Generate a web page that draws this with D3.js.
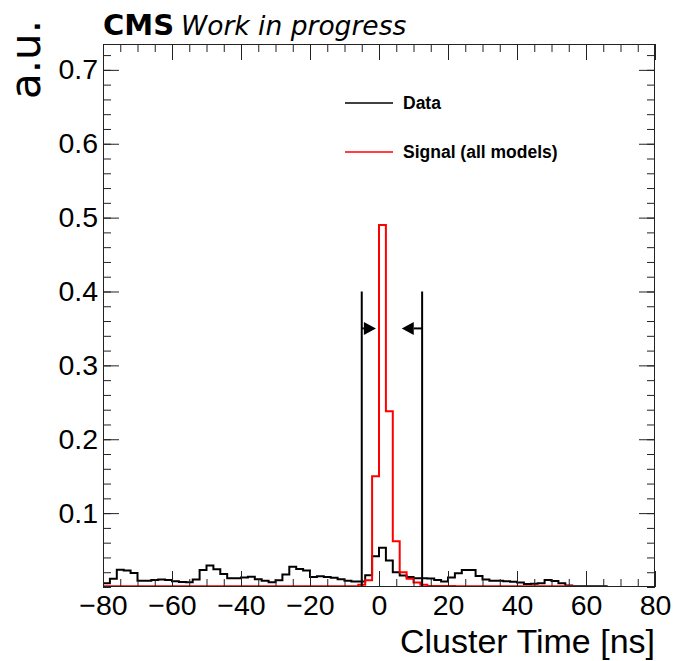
<!DOCTYPE html>
<html>
<head>
<meta charset="utf-8">
<script src="https://cdn.jsdelivr.net/npm/d3@7"></script>
<style>
  html, body { margin: 0; padding: 0; background: #fff; }
  .tick text { font-family: "Liberation Sans", Arial, sans-serif; fill: #000; }
  .tick line { stroke: #222; }
</style>
</head>
<body>
<div id="chart"></div>
<script>
const width = 675, height = 661;
const margin = { top: 44, right: 20, bottom: 74, left: 103 };
const graph_width = width - margin.left - margin.right;
const graph_height = height - margin.top - margin.bottom;

// histogram binning (ns)
const binStart = -80, binWidth = 2;

// Data, per 2 ns bin from -80 to 80
const dataValues = [
  0.0050, 0.0112, 0.0235, 0.0225, 0.0190, 0.0086, 0.0086, 0.0095, 0.0101, 0.0096,
  0.0079, 0.0068, 0.0063, 0.0102, 0.0230, 0.0290, 0.0240, 0.0175, 0.0120, 0.0117,
  0.0128, 0.0140, 0.0106, 0.0085, 0.0064, 0.0090, 0.0169, 0.0275, 0.0244, 0.0225,
  0.0135, 0.0144, 0.0135, 0.0124, 0.0104, 0.0085, 0.0076, 0.0076, 0.0160, 0.0415,
  0.0530, 0.0360, 0.0200, 0.0155, 0.0135, 0.0120, 0.0118, 0.0115, 0.0095, 0.0075,
  0.0130, 0.0185, 0.0230, 0.0230, 0.0150, 0.0100, 0.0085, 0.0085, 0.0078, 0.0072,
  0.0060, 0.0040, 0.0045, 0.0050, 0.0095, 0.0082, 0.0050, 0.0020, 0.0010, 0.0010,
  0.0010, 0.0010, 0.0010, 0.0000, 0.0000, 0.0000, 0.0000, 0.0000, 0.0000, 0.0000
];

// Signal (all models), same bins
const signalValues = [
  0.0010, 0.0010, 0.0010, 0.0010, 0.0010, 0.0010, 0.0010, 0.0010, 0.0010, 0.0010,
  0.0010, 0.0010, 0.0010, 0.0010, 0.0010, 0.0010, 0.0010, 0.0010, 0.0010, 0.0010,
  0.0010, 0.0010, 0.0010, 0.0010, 0.0010, 0.0010, 0.0010, 0.0010, 0.0010, 0.0010,
  0.0010, 0.0010, 0.0010, 0.0010, 0.0010, 0.0010, 0.0010, 0.0030, 0.0090, 0.1500,
  0.4900, 0.2380, 0.0620, 0.0200, 0.0110, 0.0060, 0.0030, 0.0015, 0.0015, 0.0015,
  0.0015, 0.0010, 0.0010, 0.0010, 0.0010, 0.0010, 0.0010, 0.0010, 0.0010, 0.0010,
  0.0010, 0.0010, 0.0010, 0.0010, 0.0010, 0.0010, 0.0010, 0.0010, 0.0000, 0.0000,
  0.0000, 0.0000, 0.0000, 0.0000, 0.0000, 0.0000, 0.0000, 0.0000, 0.0000, 0.0000
];

const xMajorTicks = [-80, -60, -40, -20, 0, 20, 40, 60, 80];
const yMajorTicks = [0.1, 0.2, 0.3, 0.4, 0.5, 0.6, 0.7];

// selection cuts and arrows
const cutValues = [-5, 12.5];
const cutHeight = 0.4;
const arrows = [{from: -5, to: -0.9}, {from: 12.5, to: 6.6}];
const arrowLevel = 0.35;

const legendItems = [
  {label: 'Data', color: '#000000'},
  {label: 'Signal (all models)', color: '#ff0000'}
];

const xScale = d3.scaleLinear().domain([-80, 80]).range([margin.left, margin.left + graph_width]);
const yScale = d3.scaleLinear().domain([0, 0.735]).range([margin.top + graph_height, margin.top]);

const xMinorTicks = d3.range(-80, 80.1, 5);
const yMinorTicks = d3.range(0, 0.735, 0.02);

const svg = d3.select('#chart').append('svg')
  .attr('width', width)
  .attr('height', height);

svg.append('defs').append('clipPath').attr('id', 'plot-clip')
  .append('rect')
  .attr('x', margin.left).attr('y', margin.top)
  .attr('width', graph_width).attr('height', graph_height);

function histPoints(values) {
  const pts = values.map((v, i) => [binStart + i * binWidth, v]);
  pts.push([binStart + values.length * binWidth, values[values.length - 1]]);
  return pts;
}

const stepLine = d3.line()
  .x(d => xScale(d[0]))
  .y(d => yScale(d[1]))
  .curve(d3.curveStepAfter);

const plot = svg.append('g').attr('clip-path', 'url(#plot-clip)');

plot.append('path')
  .datum(histPoints(dataValues))
  .attr('d', stepLine)
  .attr('fill', 'none')
  .attr('stroke', '#000')
  .attr('stroke-width', 2);

plot.append('path')
  .datum(histPoints(signalValues))
  .attr('d', stepLine)
  .attr('fill', 'none')
  .attr('stroke', '#ff0000')
  .attr('stroke-width', 2);

// cut lines
svg.selectAll('.cut')
  .data(cutValues)
  .enter()
  .append('line')
  .attr('class', 'cut')
  .attr('x1', d => xScale(d)).attr('x2', d => xScale(d))
  .attr('y1', yScale(0)).attr('y2', yScale(cutHeight))
  .attr('stroke', '#000')
  .attr('stroke-width', 2);

// arrows
const headLen = 12, headHalf = 6.5;
arrows.forEach(a => {
  const x0 = xScale(a.from), x1 = xScale(a.to), y = yScale(arrowLevel);
  const dir = Math.sign(x1 - x0);
  svg.append('line')
    .attr('x1', x0).attr('x2', x1 - dir * headLen)
    .attr('y1', y).attr('y2', y)
    .attr('stroke', '#000').attr('stroke-width', 2);
  svg.append('path')
    .attr('d', 'M' + x1 + ',' + y + 'L' + (x1 - dir * headLen) + ',' + (y - headHalf) +
               'L' + (x1 - dir * headLen) + ',' + (y + headHalf) + 'Z')
    .attr('fill', '#000');
});

// axes, ticks pointing inward
function drawAxis(axis, transform, labels) {
  const g = svg.append('g')
    .attr('transform', transform)
    .call(axis);
  g.select('.domain').remove();
  g.selectAll('.tick line').attr('stroke', '#222').attr('stroke-width', 1);
  if (labels) {
    g.selectAll('.tick text')
      .attr('font-family', '"Liberation Sans", Arial, sans-serif')
      .attr('font-size', 28.5)
      .attr('fill', '#000');
  }
  return g;
}

const bottomY = margin.top + graph_height;
const rightX = margin.left + graph_width;

drawAxis(d3.axisBottom(xScale).tickValues(xMinorTicks).tickSize(-8).tickSizeOuter(0).tickFormat(''),
  'translate(0,' + bottomY + ')', false);
drawAxis(d3.axisBottom(xScale).tickValues(xMajorTicks).tickSize(-16).tickSizeOuter(0).tickPadding(8)
  .tickFormat(d => d < 0 ? '\u2212' + Math.abs(d) : d),
  'translate(0,' + bottomY + ')', true);
drawAxis(d3.axisTop(xScale).tickValues(xMinorTicks).tickSize(-8).tickSizeOuter(0).tickFormat(''),
  'translate(0,' + margin.top + ')', false);
drawAxis(d3.axisTop(xScale).tickValues(xMajorTicks).tickSize(-16).tickSizeOuter(0).tickFormat(''),
  'translate(0,' + margin.top + ')', false);

drawAxis(d3.axisLeft(yScale).tickValues(yMinorTicks).tickSize(-8).tickSizeOuter(0).tickFormat(''),
  'translate(' + margin.left + ',0)', false);
drawAxis(d3.axisLeft(yScale).tickValues(yMajorTicks).tickSize(-16).tickSizeOuter(0).tickPadding(5)
  .tickFormat(d3.format('.1f')),
  'translate(' + margin.left + ',0)', true);
drawAxis(d3.axisRight(yScale).tickValues(yMinorTicks).tickSize(-8).tickSizeOuter(0).tickFormat(''),
  'translate(' + rightX + ',0)', false);
drawAxis(d3.axisRight(yScale).tickValues(yMajorTicks).tickSize(-16).tickSizeOuter(0).tickFormat(''),
  'translate(' + rightX + ',0)', false);

// frame
svg.append('rect')
  .attr('x', margin.left + 0.5).attr('y', margin.top + 0.5)
  .attr('width', graph_width - 1).attr('height', graph_height - 1)
  .attr('fill', 'none')
  .attr('stroke', '#222')
  .attr('stroke-width', 1);

// axis titles
svg.append('text')
  .attr('x', rightX)
  .attr('y', 653)
  .attr('text-anchor', 'end')
  .attr('font-family', '"Liberation Sans", Arial, sans-serif')
  .attr('font-size', 34)
  .text('Cluster Time [ns]');

svg.append('text')
  .attr('transform', 'translate(40,20) rotate(-90)')
  .attr('text-anchor', 'end')
  .attr('font-family', '"DejaVu Sans", sans-serif')
  .attr('font-size', 42)
  .text('a.u.');

// CMS label
const cms = svg.append('text')
  .attr('x', margin.left)
  .attr('y', 35)
  .attr('font-family', '"DejaVu Sans", sans-serif');
cms.append('tspan')
  .attr('font-weight', 'bold')
  .attr('font-size', 29)
  .text('CMS');
cms.append('tspan')
  .attr('font-style', 'italic')
  .attr('font-size', 26.5)
  .attr('dx', 7)
  .text('Work in progress');

// legend
const legend = svg.append('g');
legendItems.forEach((item, i) => {
  const y = 103 + i * 49;
  legend.append('line')
    .attr('x1', 345).attr('x2', 393)
    .attr('y1', y).attr('y2', y)
    .attr('stroke', item.color)
    .attr('stroke-width', 1.5);
  legend.append('text')
    .attr('x', 403)
    .attr('y', y)
    .attr('dy', '0.36em')
    .attr('font-family', '"Liberation Sans", Arial, sans-serif')
    .attr('font-weight', 'bold')
    .attr('font-size', 17.5)
    .text(item.label);
});
</script>
</body>
</html>
